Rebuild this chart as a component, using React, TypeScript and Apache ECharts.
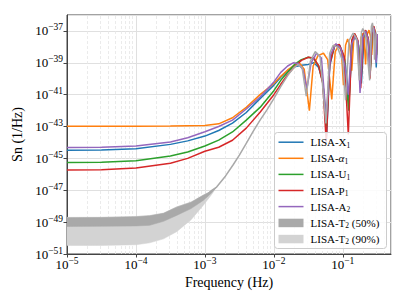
import React, { useEffect, useRef } from 'react';
import * as echarts from 'echarts';

// All values are log10: [log10 f (Hz), log10 Sn (1/Hz)]
const X1 = [[-5,-44.49],[-4.5,-44.47],[-4,-44.4],[-3.5,-44.12],[-3.25,-43.9],[-3,-43.6],[-2.8,-43.25],[-2.6,-42.79],[-2.4,-42.12],[-2.2,-41.25],[-2.0,-40.4],[-1.9,-39.9],[-1.8,-39.5],[-1.7,-39.25],[-1.6,-39.15],[-1.5,-39.1],[-1.42,-39.0],[-1.35,-39.3],[-1.29,-40.2],[-1.235,-43.6],[-1.19,-39.2],[-1.12,-37.95],[-1.04,-37.95],[-0.97,-38.8],[-0.91,-41.3],[-0.86,-37.7],[-0.82,-37.35],[-0.77,-37.9],[-0.73,-40.3],[-0.69,-37.3],[-0.66,-37.0],[-0.63,-37.6],[-0.60,-39.3],[-0.57,-37.0],[-0.55,-36.8],[-0.53,-37.2],[-0.515,-39.3],[-0.50,-37.3]];
const ALPHA1 = [[-5,-42.98],[-4,-42.98],[-3.5,-42.97],[-3,-42.94],[-2.8,-42.83],[-2.6,-42.45],[-2.4,-41.8],[-2.2,-41.0],[-2.0,-40.3],[-1.9,-39.85],[-1.8,-39.45],[-1.7,-39.15],[-1.62,-39.05],[-1.56,-39.4],[-1.485,-42.0],[-1.43,-39.2],[-1.36,-38.55],[-1.28,-38.4],[-1.22,-38.8],[-1.16,-41.3],[-1.11,-38.3],[-1.06,-37.9],[-1.02,-38.3],[-0.99,-40.4],[-0.96,-37.9],[-0.93,-37.5],[-0.9,-37.9],[-0.87,-39.5],[-0.84,-37.5],[-0.81,-37.3],[-0.785,-37.7],[-0.76,-39.8],[-0.735,-37.4],[-0.71,-37.15],[-0.69,-37.5],[-0.67,-39.1],[-0.645,-37.2],[-0.62,-36.95],[-0.60,-37.3],[-0.58,-38.5],[-0.56,-37.0],[-0.54,-36.85],[-0.525,-37.2],[-0.505,-37.6]];
const U1 = [[-5,-45.26],[-4.5,-45.24],[-4,-45.15],[-3.5,-44.85],[-3.25,-44.6],[-3,-44.22],[-2.8,-43.85],[-2.6,-43.34],[-2.4,-42.6],[-2.2,-41.8],[-2.0,-40.75],[-1.9,-40.1],[-1.8,-39.6],[-1.7,-39.1],[-1.6,-38.8],[-1.5,-38.65],[-1.42,-38.75],[-1.35,-39.2],[-1.29,-40.2],[-1.235,-43.0],[-1.19,-39.0],[-1.12,-37.95],[-1.05,-37.9],[-0.98,-38.7],[-0.915,-42.0],[-0.87,-37.6],[-0.83,-37.2],[-0.78,-37.7],[-0.735,-39.8],[-0.70,-37.25],[-0.67,-37.0],[-0.63,-37.5],[-0.60,-39.5],[-0.575,-36.95],[-0.55,-36.75],[-0.53,-37.2],[-0.51,-38.5],[-0.50,-37.3]];
const P1 = [[-5,-45.73],[-4.5,-45.71],[-4,-45.6],[-3.5,-45.3],[-3.25,-45.0],[-3,-44.55],[-2.8,-44.3],[-2.6,-43.86],[-2.4,-43.1],[-2.2,-42.1],[-2.0,-41.0],[-1.9,-40.35],[-1.8,-39.75],[-1.7,-39.25],[-1.6,-38.85],[-1.5,-38.65],[-1.42,-38.7],[-1.35,-39.2],[-1.29,-40.3],[-1.24,-44.0],[-1.19,-39.1],[-1.12,-37.9],[-1.05,-37.85],[-0.98,-38.6],[-0.92,-43.5],[-0.87,-37.6],[-0.83,-37.15],[-0.78,-37.6],[-0.74,-40.6],[-0.70,-37.2],[-0.67,-36.95],[-0.63,-37.5],[-0.605,-40.0],[-0.575,-36.9],[-0.55,-36.7],[-0.53,-37.2],[-0.515,-38.8],[-0.50,-37.2]];
const A2 = [[-5,-44.32],[-4.5,-44.3],[-4,-44.22],[-3.5,-43.97],[-3.25,-43.7],[-3,-43.33],[-2.8,-43.0],[-2.6,-42.6],[-2.4,-41.9],[-2.2,-41.15],[-2.0,-40.2],[-1.9,-39.6],[-1.8,-39.2],[-1.72,-39.0],[-1.65,-39.05],[-1.58,-39.4],[-1.52,-40.6],[-1.46,-39.0],[-1.38,-38.4],[-1.31,-38.7],[-1.24,-42.5],[-1.18,-38.5],[-1.10,-37.8],[-1.03,-38.1],[-0.97,-39.2],[-0.92,-41.0],[-0.87,-37.8],[-0.82,-37.3],[-0.78,-37.7],[-0.75,-40.9],[-0.71,-37.4],[-0.67,-37.0],[-0.63,-37.6],[-0.61,-39.8],[-0.58,-37.1],[-0.55,-36.8],[-0.53,-37.3],[-0.515,-39.0],[-0.50,-37.2]];
const T2_MEDIAN = [[-3.1,-47.55],[-3.0,-47.4],[-2.9,-47.0],[-2.83,-46.8],[-2.7,-46.1],[-2.59,-45.4],[-2.5,-44.8],[-2.4,-44.05],[-2.3,-43.3],[-2.2,-42.6],[-2.1,-41.95],[-2.0,-41.25],[-1.9,-40.5],[-1.8,-39.8],[-1.72,-39.35],[-1.65,-39.1],[-1.59,-39.3],[-1.53,-41.1],[-1.47,-38.9],[-1.40,-38.3],[-1.33,-38.6],[-1.245,-42.8],[-1.19,-38.4],[-1.14,-37.9],[-1.08,-38.0],[-1.0,-38.9],[-0.96,-41.35],[-0.91,-37.6],[-0.85,-37.13],[-0.80,-37.5],[-0.76,-40.1],[-0.73,-37.1],[-0.71,-36.85],[-0.67,-37.3],[-0.61,-40.1],[-0.585,-36.7],[-0.57,-36.5],[-0.55,-37.2],[-0.54,-38.8],[-0.515,-37.1]];

// T2 bands (log10 f, log10 Sn)
const T2_F = [-5, -4.5, -4, -3.8, -3.6, -3.41, -3.2, -3.025, -2.9, -2.83];
const T2_50_UPPER = [-48.72, -48.71, -48.66, -48.6, -48.45, -48.06, -47.75, -47.32, -47.05, -46.8];
const T2_50_LOWER = [-49.27, -49.26, -49.24, -49.2, -48.95, -48.58, -48.15, -47.64, -47.15, -46.8];
const T2_90_UPPER = [-48.7, -48.69, -48.64, -48.58, -48.43, -48.04, -47.73, -47.3, -47.03, -46.8];
const T2_90_LOWER = [-50.47, -50.46, -50.42, -50.3, -50.05, -49.6, -48.85, -47.95, -47.25, -46.8];

const X_TICK_EXP = [-5, -4, -3, -2, -1];
const Y_TICK_EXP = [-51, -49, -47, -45, -43, -41, -39, -37];
const X_MIN = -5;
const X_MAX = Math.log10(0.5);
const Y_MIN = -51;
const Y_MAX = -36;
const MINOR_MULT = [2, 3, 4, 5, 6, 7, 8, 9];

const COLORS = {
  X1: '#1f77b4', ALPHA1: '#ff7f0e', U1: '#2ca02c', P1: '#d62728', A2: '#9467bd',
  T50: '#a9a9a9', T90: '#d3d3d3', TLINE: '#a9a9a9',
};

const FONT = "'Liberation Serif', 'DejaVu Serif', 'Times New Roman', serif";

function expLabel(v: number, allowed: number[]) {
  const r = Math.round(v);
  if (Math.abs(v - r) > 1e-6 || allowed.indexOf(r) < 0) return '';
  const e = (r < 0 ? '\u2212' : '') + Math.abs(r);
  return `{b|10}{e|${e}}`;
}

const richLabel = {
  b: { fontSize: 13, lineHeight: 17, fontFamily: FONT, color: '#000' },
  e: { fontSize: 9.5, lineHeight: 10, verticalAlign: 'top', fontFamily: FONT, color: '#000' },
};

export default function App() {
  const ref = useRef<HTMLDivElement>(null);
  useEffect(() => {
    if (!ref.current) return;
    const chart = echarts.init(ref.current, undefined, { renderer: 'svg' });

    const minorLines: any[] = [];
    for (let n = -5; n <= -1; n++) {
      for (const k of MINOR_MULT) {
        const v = n + Math.log10(k);
        if (v < X_MAX) minorLines.push({ xAxis: v });
      }
    }

    const bandSeries = (name: string, upper: number[], lower: number[], color: string) => ({
      name, type: 'custom', coordinateSystem: 'cartesian2d', silent: true, z: 2, clip: true,
      data: [[T2_F[0], upper[0]]],
      encode: { x: 0, y: 1 },
      renderItem: (_params: any, api: any) => {
        const pts: number[][] = [];
        T2_F.forEach((f, i) => pts.push(api.coord([f, upper[i]])));
        for (let i = T2_F.length - 1; i >= 0; i--) pts.push(api.coord([T2_F[i], lower[i]]));
        return { type: 'polygon', shape: { points: pts }, style: { fill: color, stroke: color, lineWidth: 0.5 } };
      },
    });

    const lineSeries = (name: string, data: number[][], color: string) => ({
      name, type: 'line', data, showSymbol: false, symbol: 'none',
      lineStyle: { color, width: 1.5 }, itemStyle: { color }, z: 3,
    });

    const legendItems = [
      { label: [{ t: 'LISA-X', s: 'n' }, { t: '1', s: 's' }], color: COLORS.X1, kind: 'line' },
      { label: [{ t: 'LISA-', s: 'n' }, { t: 'α', s: 'i' }, { t: '1', s: 's' }], color: COLORS.ALPHA1, kind: 'line' },
      { label: [{ t: 'LISA-U', s: 'n' }, { t: '1', s: 's' }], color: COLORS.U1, kind: 'line' },
      { label: [{ t: 'LISA-P', s: 'n' }, { t: '1', s: 's' }], color: COLORS.P1, kind: 'line' },
      { label: [{ t: 'LISA-A', s: 'n' }, { t: '2', s: 's' }], color: COLORS.A2, kind: 'line' },
      { label: [{ t: 'LISA-T', s: 'n' }, { t: '2', s: 's' }, { t: ' (50%)', s: 'n' }], color: COLORS.T50, kind: 'rect' },
      { label: [{ t: 'LISA-T', s: 'n' }, { t: '2', s: 's' }, { t: ' (90%)', s: 'n' }], color: COLORS.T90, kind: 'rect' },
    ];
    const LZ = 100;
    const legendChildren: any[] = [
      { type: 'rect', z: LZ, shape: { x: 0, y: 0, width: 112, height: 116, r: 3 },
        style: { fill: 'rgba(255,255,255,0.85)', stroke: '#cccccc', lineWidth: 1 } },
    ];
    legendItems.forEach((it, i) => {
      const cy = 9.7 + i * 16.1;
      if (it.kind === 'line') {
        legendChildren.push({ type: 'line', z: LZ + 1, shape: { x1: 4, y1: cy, x2: 29, y2: cy },
          style: { stroke: it.color, lineWidth: 1.5 } });
      } else {
        legendChildren.push({ type: 'rect', z: LZ + 1, shape: { x: 4, y: cy - 4, width: 25, height: 8.5 },
          style: { fill: it.color } });
      }
      legendChildren.push({
        type: 'text', z: LZ + 1, x: 36, y: cy,
        style: {
          text: it.label.map((p) => `{${p.s}|${p.t}}`).join(''),
          verticalAlign: 'middle', align: 'left',
          rich: {
            n: { fontSize: 11, lineHeight: 14, fontFamily: FONT, fill: '#000' },
            i: { fontSize: 11, lineHeight: 14, fontFamily: FONT, fontStyle: 'italic', fill: '#000' },
            s: { fontSize: 7.5, lineHeight: 8, verticalAlign: 'bottom', fontFamily: FONT, fill: '#000' },
          },
        },
      });
    });

    chart.setOption({
      animation: false,
      grid: { left: 67, right: 16, top: 15, bottom: 51, show: true, borderColor: '#444', borderWidth: 1, backgroundColor: 'transparent' },
      xAxis: {
        type: 'value', min: X_MIN, max: X_MAX, interval: 1,
        name: 'Frequency (Hz)', nameLocation: 'middle', nameGap: 16,
        nameTextStyle: { fontFamily: FONT, fontSize: 14, color: '#000' },
        axisLine: { show: true, onZero: false, lineStyle: { color: '#444', width: 1 } },
        axisTick: { show: true, length: 3.5, lineStyle: { color: '#444' } },
        axisLabel: { margin: 2, showMaxLabel: false, formatter: (v: number) => expLabel(v, X_TICK_EXP), rich: richLabel },
        splitLine: { show: true, lineStyle: { color: '#e0e0e0', width: 1 } },
      },
      yAxis: {
        type: 'value', min: Y_MIN, max: Y_MAX, interval: 2,
        name: 'Sn (1/Hz)', nameLocation: 'middle', nameGap: 40,
        nameTextStyle: { fontFamily: FONT, fontSize: 14, color: '#000' },
        axisLine: { show: true, onZero: false, lineStyle: { color: '#444', width: 1 } },
        axisTick: { show: true, length: 3.5, lineStyle: { color: '#444' } },
        axisLabel: { margin: 4, showMaxLabel: false, formatter: (v: number) => expLabel(v, Y_TICK_EXP), rich: richLabel },
        splitLine: { show: true, lineStyle: { color: '#e0e0e0', width: 1 } },
      },
      series: [
        {
          name: 'minor-grid', type: 'line', data: [], silent: true, z: 1,
          markLine: { z: 1, silent: true, symbol: ['none', 'none'], label: { show: false },
            lineStyle: { color: '#e6e6e6', type: [3, 2], width: 0.8 }, data: minorLines, animation: false },
        },
        bandSeries('LISA-T2 (90%)', T2_90_UPPER, T2_90_LOWER, COLORS.T90),
        bandSeries('LISA-T2 (50%)', T2_50_UPPER, T2_50_LOWER, COLORS.T50),
        lineSeries('LISA-X1', X1, COLORS.X1),
        lineSeries('LISA-α1', ALPHA1, COLORS.ALPHA1),
        lineSeries('LISA-U1', U1, COLORS.U1),
        lineSeries('LISA-P1', P1, COLORS.P1),
        lineSeries('LISA-A2', A2, COLORS.A2),
        { ...lineSeries('LISA-T2', T2_MEDIAN, COLORS.TLINE), z: 4 },
      ],
      graphic: [{ type: 'group', left: 274, top: 132, z: LZ, children: legendChildren }],
    });
    return () => chart.dispose();
  }, []);
  return <div ref={ref} style={{ position: 'fixed', left: 0, top: 0, width: 407, height: 305, background: '#fff' }} />;
}
